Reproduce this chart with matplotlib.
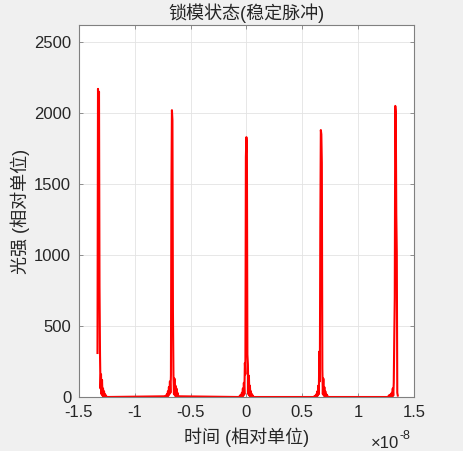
import numpy as np
import matplotlib.pyplot as plt
from matplotlib.ticker import FuncFormatter

plt.rcParams['font.family'] = ['Liberation Sans', 'Noto Sans CJK SC', 'DejaVu Sans']
plt.rcParams['axes.unicode_minus'] = False

# pulse centres (s) and sample spacing of the profile lists
pulse_t0 = [-1.3333e-8, -0.6667e-8, 0.0, 0.6667e-8, 1.3333e-8]
dt = 0.0045e-8

# sampled intensity around each pulse (first offset index, values)
p1_start = 0
p1 = [310, 2170, 1900, 2150, 780, 300, 60, 160, 20, 120, 10, 60, 5, 40, 0, 20, 5, 10, 0]
p2_start = -14
p2 = [5, 0, 10, 0, 20, 5, 40, 10, 70, 20, 110, 30, 150, 1480, 2020, 1950, 600,
      160, 20, 130, 10, 80, 5, 60, 0, 30, 10, 0, 5]
p3_start = -14
p3 = [0, 10, 0, 15, 0, 30, 5, 60, 10, 100, 20, 240, 160, 1690, 1830, 1780, 300,
      230, 20, 150, 10, 80, 5, 40, 0, 20, 5, 10, 0]
p4_start = -14
p4 = [0, 5, 0, 10, 0, 20, 5, 40, 10, 80, 20, 320, 110, 1200, 1880, 1850, 1650,
      200, 20, 130, 10, 70, 5, 40, 0, 20, 5, 10, 0]
p5_start = -14
p5 = [0, 10, 0, 15, 0, 20, 5, 30, 5, 60, 10, 100, 415, 700, 2050, 2000, 1290, 1020, 30, 10]

starts = [p1_start, p2_start, p3_start, p4_start, p5_start]
profiles = [p1, p2, p3, p4, p5]

t_all = []
y_all = []
for t0, k0, prof in zip(pulse_t0, starts, profiles):
    for i, v in enumerate(prof):
        t_all.append(t0 + (k0 + i) * dt)
        y_all.append(v)
t_all = np.array(t_all)
y_all = np.array(y_all)

fig = plt.figure(figsize=(4.64, 4.51), dpi=100, facecolor='#f0f0f0')
ax = fig.add_axes([0.170, 0.1197, 0.722, 0.8249])
ax.set_facecolor('white')

ax.plot(t_all, y_all, color='red', lw=1.5)

ax.set_xlim(-1.5e-8, 1.5e-8)
ax.set_ylim(0, 2620)
ax.set_xticks(np.arange(-1.5e-8, 1.51e-8, 0.5e-8))
ax.set_yticks([0, 500, 1000, 1500, 2000, 2500])
ax.xaxis.set_major_formatter(FuncFormatter(lambda v, p: '%g' % round(v * 1e8, 2)))

ax.grid(True, color='#e3e3e3', lw=0.6)
ax.set_axisbelow(True)
for s in ax.spines.values():
    s.set_color('#808080')
    s.set_linewidth(0.8)
ax.tick_params(direction='in', length=3, width=0.6, color='#808080',
               labelsize=12, labelcolor='#262626', top=True, right=True, pad=5.5)

ax.set_title('锁模状态(稳定脉冲)', fontsize=13, color='#262626', pad=4)
ax.set_xlabel('时间 (相对单位)', fontsize=13, color='#262626', labelpad=6)
ax.set_ylabel('光强 (相对单位)', fontsize=13, color='#262626', labelpad=3)
fig.text(371 / 464, 1 - 448 / 451, '×10', fontsize=12, color='#262626',
         ha='left', va='baseline')
fig.text(400 / 464, 1 - 439 / 451, '-8', fontsize=9, color='#262626',
         ha='left', va='baseline')

fig.savefig('out.png', dpi=100, facecolor=fig.get_facecolor())
